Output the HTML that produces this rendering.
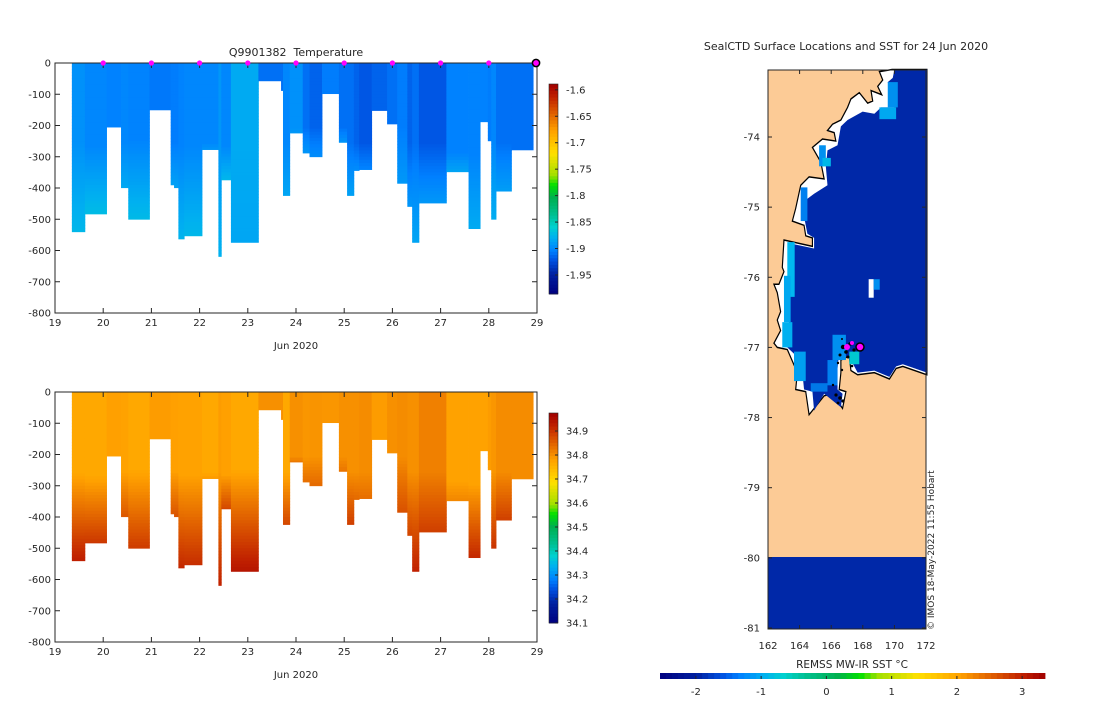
<!DOCTYPE html>
<html><head><meta charset="utf-8">
<style>
body{margin:0;background:#fff;}
svg{font-family:"DejaVu Sans","Liberation Sans",sans-serif;font-size:10px;fill:#262626;}
text{fill:#262626;}
</style></head>
<body>
<svg id="fig" width="1100" height="700" viewBox="0 0 1100 700" xmlns="http://www.w3.org/2000/svg">
<g id="tempPlot"></g>
<g id="salPlot"></g>
<g id="map">
  <rect x="768" y="70" width="158" height="559" fill="#fccb96"/>
  <rect x="768" y="557" width="158" height="72" fill="#0028a8"/>
  <g transform="translate(640,40) scale(0.3348,0.4211)">
    <polygon fill="#ffffff" stroke="#000" stroke-width="3.5" points="753,70 715,75 725,95 710,110 722,130 690,120 695,145 680,150 655,125 630,140 620,160 600,190 575,200 560,215 580,220 585,240 545,235 515,255 540,290 550,330 505,325 480,345 465,400 455,430 490,440 495,465 515,470 515,490 430,475 425,540 430,550 415,580 400,580 410,600 420,645 410,665 420,690 400,720 410,730 440,735 470,790 465,830 495,835 505,890 550,845 575,840 605,875 615,835 595,830 600,790 600,760 625,750 630,785 650,795 700,790 745,805 765,780 785,775 857,795 857,70"/>
    <polygon fill="#0028a8" points="755,90 740,100 760,160 720,160 700,175 665,170 620,190 600,205 590,250 560,262 555,300 560,345 520,365 495,380 490,420 495,440 500,460 520,470 520,495 460,485 445,540 440,600 440,640 450,700 440,730 460,745 485,790 490,830 515,835 520,880 550,840 600,872 605,840 590,830 590,780 595,740 630,760 650,790 700,785 745,800 765,775 785,770 857,790 857,70 760,70"/>
    <rect x="535" y="250" width="20" height="50" fill="#0090f0"/>
    <rect x="545" y="280" width="25" height="20" fill="#00b8e8"/>
    <rect x="480" y="350" width="20" height="80" fill="#0080f0"/>
    <rect x="440" y="480" width="22" height="130" fill="#00b8f0"/>
    <rect x="430" y="560" width="20" height="110" fill="#00a8f0"/>
    <rect x="425" y="670" width="30" height="60" fill="#00b0f0"/>
    <rect x="460" y="740" width="35" height="70" fill="#00a0f0"/>
    <rect x="510" y="815" width="50" height="20" fill="#0078e8"/>
    <rect x="560" y="760" width="30" height="60" fill="#0080f0"/>
    <rect x="575" y="700" width="40" height="60" fill="#0090f0"/>
    <rect x="625" y="740" width="30" height="30" fill="#00c8d0"/>
    <rect x="715" y="160" width="50" height="28" fill="#00a8f0"/>
    <rect x="740" y="100" width="30" height="60" fill="#0090f0"/>
    <rect x="683" y="568" width="15" height="44" fill="#ffffff"/>
    <rect x="698" y="568" width="18" height="25" fill="#0090f0"/>
  </g>
  <g fill="#000">
    <circle cx="843" cy="347" r="2.2"/><circle cx="846" cy="352" r="1.8"/><circle cx="850" cy="344" r="1.8"/>
    <circle cx="854" cy="350" r="1.6"/><circle cx="840" cy="355" r="1.5"/><circle cx="848" cy="357" r="1.5"/>
    <circle cx="838" cy="363" r="1.2"/><circle cx="852" cy="366" r="1.3"/><circle cx="842" cy="370" r="1.2"/>
    <circle cx="836" cy="395" r="1.6"/><circle cx="840" cy="398" r="1.8"/><circle cx="843" cy="401" r="1.6"/><circle cx="838" cy="403" r="1.4"/>
    <circle cx="842" cy="339" r="1"/><circle cx="833" cy="385" r="1.2"/>
  </g>
  <circle cx="847" cy="347" r="3" fill="#ff00ff"/>
  <circle cx="852" cy="343" r="2" fill="#ff00ff"/>
  <circle cx="860" cy="347" r="4" fill="#ff00ff" stroke="#000" stroke-width="1.5"/>
  <rect x="768" y="70" width="158" height="559" fill="none" stroke="#262626" stroke-width="1"/>
  <text x="846" y="50" text-anchor="middle" font-size="11">SealCTD Surface Locations and SST for 24 Jun 2020</text>
  <text transform="translate(934,630) rotate(-90)" font-size="9">© IMOS 18-May-2022 11:55 Hobart</text>
  <text x="852" y="668" text-anchor="middle" font-size="10.5">REMSS MW-IR SST °C</text>
</g>
<g id="mapAxes"></g>
<g id="sstBar"></g>
</svg>
<script>
// ---- Section data (days in Jun 2020, depth m) ----
const colStart = [19.35,19.62,20.07,20.37,20.52,20.96,21.40,21.47,21.56,21.68,22.05,22.39,22.45,22.65,23.22,23.69,23.73,23.87,24.14,24.28,24.54,24.89,25.06,25.20,25.31,25.57,25.89,26.10,26.31,26.41,26.55,27.12,27.58,27.82,27.98,28.05,28.15,28.47];
const colEnd   = [19.62,20.07,20.37,20.52,20.96,21.40,21.47,21.56,21.68,22.05,22.39,22.45,22.65,23.22,23.69,23.73,23.87,24.14,24.28,24.54,24.89,25.06,25.20,25.31,25.57,25.89,26.10,26.31,26.41,26.55,27.12,27.58,27.82,27.98,28.05,28.15,28.47,28.92];
const colDepth = [540,483,205,399,500,150,390,399,563,553,277,619,374,574,57,88,424,224,288,300,98,254,424,344,341,152,195,385,459,574,448,348,530,188,249,500,410,278];
const tempTop  = [-1.895,-1.900,-1.903,-1.900,-1.902,-1.907,-1.905,-1.905,-1.902,-1.900,-1.900,-1.892,-1.900,-1.882,-1.910,-1.910,-1.900,-1.895,-1.910,-1.915,-1.905,-1.910,-1.910,-1.915,-1.920,-1.915,-1.910,-1.905,-1.915,-1.910,-1.920,-1.903,-1.902,-1.903,-1.905,-1.900,-1.910,-1.910];
const tempDeep = [-1.874,-1.871,-1.899,-1.882,-1.872,-1.903,-1.886,-1.886,-1.876,-1.874,-1.891,-1.878,-1.874,-1.884,-1.906,-1.906,-1.884,-1.891,-1.892,-1.896,-1.901,-1.892,-1.886,-1.896,-1.901,-1.911,-1.906,-1.891,-1.892,-1.884,-1.891,-1.884,-1.881,-1.899,-1.896,-1.880,-1.888,-1.901];
const salTop   = [34.770,34.770,34.783,34.780,34.770,34.787,34.783,34.783,34.780,34.780,34.770,34.787,34.783,34.770,34.800,34.800,34.770,34.800,34.793,34.796,34.793,34.800,34.800,34.800,34.804,34.787,34.800,34.804,34.800,34.800,34.817,34.780,34.780,34.780,34.787,34.793,34.804,34.804];
const salDeep  = [34.930,34.900,34.793,34.865,34.895,34.791,34.865,34.871,34.917,34.910,34.793,34.923,34.884,34.943,34.806,34.813,34.884,34.832,34.839,34.845,34.800,34.832,34.891,34.845,34.839,34.800,34.813,34.871,34.884,34.923,34.891,34.813,34.917,34.800,34.813,34.904,34.891,34.813];
const splitDepth=[250,260,200,250,240,150,250,250,260,260,250,250,260,240,57,88,250,200,200,200,98,200,250,250,250,152,195,200,250,250,250,280,290,188,249,250,250,278];
const markerDays = [20,21,22,23,24,25,26,27,28];
const xTicks = [19,20,21,22,23,24,25,26,27,28,29];
const yTicks = [0,-100,-200,-300,-400,-500,-600,-700,-800];
const tempCbTicks = [-1.6,-1.65,-1.7,-1.75,-1.8,-1.85,-1.9,-1.95];
const salCbTicks = [34.1,34.2,34.3,34.4,34.5,34.6,34.7,34.8,34.9];
const lonTicks = [162,164,166,168,170,172];
const latTicks = [-74,-75,-76,-77,-78,-79,-80,-81];
const sstTicks = [-2,-1,0,1,2,3];

const NS='http://www.w3.org/2000/svg';
function mk(tag,attrs,parent){const e=document.createElementNS(NS,tag);for(const k in attrs)e.setAttribute(k,attrs[k]);parent.appendChild(e);return e;}
const cmapStops=[[0,[0,0,127]],[0.096,[0,32,160]],[0.16,[0,80,224]],[0.207,[0,128,255]],[0.27,[0,176,240]],[0.32,[0,208,208]],[0.38,[0,192,144]],[0.46,[0,176,80]],[0.52,[0,224,0]],[0.565,[160,224,0]],[0.67,[255,224,0]],[0.78,[255,160,0]],[0.86,[224,96,0]],[0.94,[192,32,0]],[1,[160,0,0]]];
function cmap(t){t=Math.max(0,Math.min(1,t));
  for(let i=1;i<cmapStops.length;i++){if(t<=cmapStops[i][0]){const a=cmapStops[i-1],b=cmapStops[i];const f=(t-a[0])/(b[0]-a[0]);
    return 'rgb('+a[1].map((c,j)=>Math.round(c+(b[1][j]-c)*f)).join(',')+')';}}
  return 'rgb(160,0,0)';}

const X0=55,X1=537;
const xs=d=>X0+(d-19)/10*(X1-X0);

function section(g,top,topV,deepV,vmin,vmax,cbTicks,title){
  const ys=z=>top+(-z)/800*250;
  for(let i=0;i<colStart.length;i++){
    const x0=xs(colStart[i]),x1=xs(colEnd[i]);
    const step=10;
    for(let z=0;z<colDepth[i];z+=step){
      const zz=Math.min(z+step,colDepth[i]);
      let f=0; if(z>splitDepth[i]) f=(z-splitDepth[i])/Math.max(1,colDepth[i]-splitDepth[i]);
      const v=topV[i]+(deepV[i]-topV[i])*f;
      const r=mk('rect',{x:x0.toFixed(2),y:ys(-z).toFixed(2),width:(x1-x0+0.4).toFixed(2),height:((zz-z)*250/800+0.4).toFixed(2),fill:cmap((v-vmin)/(vmax-vmin))},g);
      
      
    }
  }
  const ax=mk('rect',{x:X0,y:top,width:X1-X0,height:250,fill:'none',stroke:'#262626','stroke-width':1},g);
  
  
  yTicks.forEach(t=>{const y=ys(t);
    mk('line',{x1:X0,x2:X0+5,y1:y,y2:y,stroke:'#262626'},g);mk('line',{x1:X1,x2:X1-5,y1:y,y2:y,stroke:'#262626'},g);
    const tx=mk('text',{x:X0-4,y:y+3.5,'text-anchor':'end'},g);tx.textContent=t;
    
    });
  xTicks.forEach(t=>{const x=xs(t);
    mk('line',{x1:x,x2:x,y1:top+250,y2:top+245,stroke:'#262626'},g);mk('line',{x1:x,x2:x,y1:top,y2:top+5,stroke:'#262626'},g);
    const tx=mk('text',{x:x,y:top+263,'text-anchor':'middle'},g);tx.textContent=t;
    
    });
  const xl=mk('text',{x:296,y:top+286,'text-anchor':'middle'},g);xl.textContent='Jun 2020';
  
  
  if(title){const tt=mk('text',{x:296,y:top-7,'text-anchor':'middle','font-size':'11'},g);tt.textContent=title;
    
    }
  const cbTop=top+21,cbH=210,cbX=549,cbW=9;
  for(let k=0;k<64;k++){const r=mk('rect',{x:cbX,y:(cbTop+cbH-(k+1)*cbH/64).toFixed(2),width:cbW,height:(cbH/64+0.4).toFixed(2),fill:cmap((k+0.5)/64)},g);
    
    }
  mk('rect',{x:cbX,y:cbTop,width:cbW,height:cbH,fill:'none',stroke:'#262626','stroke-width':0.6},g);
  cbTicks.forEach(t=>{const y=cbTop+cbH-(t-vmin)/(vmax-vmin)*cbH;
    mk('line',{x1:cbX+cbW,x2:cbX+cbW-3,y1:y,y2:y,stroke:'#262626'},g);
    const tx=mk('text',{x:cbX+cbW+8,y:y+3.5},g);tx.textContent=String(t);
    
    });
}
const tg=document.getElementById('tempPlot');
section(tg,63,tempTop,tempDeep,-1.986,-1.589,tempCbTicks,'Q9901382\u00a0\u00a0Temperature');
markerDays.forEach(d=>{const c=mk('circle',{cx:xs(d),cy:63,r:2.6,fill:'#ff00ff'},tg);
  
  });
const cur=mk('circle',{cx:xs(28.98),cy:63,r:3.6,fill:'#ff00ff',stroke:'#000','stroke-width':1.5},tg);


section(document.getElementById('salPlot'),392,salTop,salDeep,34.1,34.975,salCbTicks,null);

const mg=document.getElementById('mapAxes');
const lonX=l=>768+(l-162)/10*158, latY=l=>137+(-74-l)*70.14;
lonTicks.forEach(l=>{const x=lonX(l);mk('line',{x1:x,x2:x,y1:629,y2:625,stroke:'#262626'},mg);mk('line',{x1:x,x2:x,y1:70,y2:74,stroke:'#262626'},mg);
  const t=mk('text',{x:x,y:649,'text-anchor':'middle'},mg);t.textContent=l;
  
  });
latTicks.forEach(l=>{const y=latY(l);mk('line',{x1:768,x2:772,y1:y,y2:y,stroke:'#262626'},mg);mk('line',{x1:926,x2:922,y1:y,y2:y,stroke:'#262626'},mg);
  const t=mk('text',{x:760,y:y+3.5,'text-anchor':'end'},mg);t.textContent=l;
  
  });
const sg=document.getElementById('sstBar');
const sMin=-2.55,sMax=3.35,bx0=660,bx1=1045;
for(let k=0;k<64;k++){const r=mk('rect',{x:(bx0+k*(bx1-bx0)/64).toFixed(2),y:673,width:((bx1-bx0)/64+0.4).toFixed(2),height:6,fill:cmap((k+0.5)/64)},sg);
  
  }
sstTicks.forEach(t=>{const x=bx0+(t-sMin)/(sMax-sMin)*(bx1-bx0);
  mk('line',{x1:x,x2:x,y1:679,y2:676,stroke:'#262626'},sg);
  const tx=mk('text',{x:x,y:695,'text-anchor':'middle'},sg);tx.textContent=t;
  
  });
</script>
</body></html>
